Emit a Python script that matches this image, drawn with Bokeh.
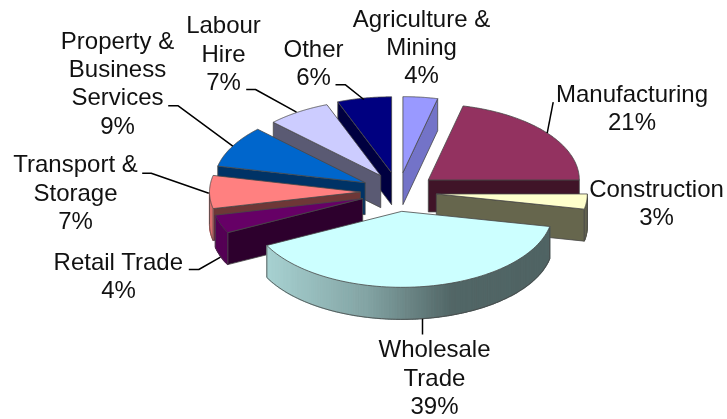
import numpy as np
from bokeh.plotting import figure
from bokeh.models import Range1d
from bokeh.core.properties import value
from bokeh.embed import file_html
from bokeh.resources import INLINE

# ---- data ----
categories = ["Agriculture & Mining", "Manufacturing", "Construction", "Wholesale Trade",
              "Retail Trade", "Transport & Storage", "Property & Business Services",
              "Labour Hire", "Other"]
values = [3.7, 21.3, 3.2, 39.4, 3.9, 7.0, 8.9, 6.8, 5.8]

# ---- style ----
top_colors = ["#9999ff", "#933260", "#ffffcc", "#ccffff", "#660066", "#ff8080", "#0066cc", "#ccccff", "#000080"]
face_colors = ["#7373c8", "#401428", "#66664d", "#4b6464", "#2d002d", "#6e3737", "#003366", "#5a5a73", "#000040"]
draw_order = [0, 8, 7, 6, 5, 4, 1, 2, 3]
nudge_x = [0, 0, 0, -1.7, 0, 0, 0, 3, 0]

label_lines = [["Agriculture &", "Mining"], ["Manufacturing"], ["Construction"], ["Wholesale", "Trade"],
               ["Retail Trade"], ["Transport &", "Storage"], ["Property &", "Business", "Services"],
               ["Labour", "Hire"], ["Other"]]
label_x = [421, 631.5, 656, 434, 118, 75, 117, 223, 313]
label_first_baseline = [26, 101, 196, 356.7, 269, 171.7, 48, 32.7, 56]
line_step = 28.4
leaders = [None,
           ([552.7, 546.7], [101.7, 132.7]),
           None,
           ([422, 422], [318.3, 334]),
           ([188.3, 198.3, 220], [269, 269, 256.7]),
           ([141.7, 150.7, 208.3], [172.7, 172.7, 192.7]),
           ([167.7, 177.7, 232.3], [105.3, 105.3, 145.7]),
           ([245.7, 255, 296], [89, 89, 111.7]),
           ([335, 345, 363.3], [84.3, 84.3, 99])]

# ---- pie geometry ----
CX, CY, RX, RY, DEPTH, EXPLODE_X, EXPLODE_Y = 398, 191.5, 151, 76, 32, 38, 19.5
FONT = "Liberation Sans"
EDGE = "#484848"
BASELINE_TO_MIDDLE = 8.5

p = figure(width=727, height=419, output_backend="svg", toolbar_location=None,
           x_range=Range1d(0, 727), y_range=Range1d(419, 0),
           min_border=0, outline_line_color=None, background_fill_color="white",
           border_fill_color="white", x_axis_location=None, y_axis_location=None)
p.grid.visible = False
p.styles = {"position": "fixed", "left": "0px", "top": "0px"}

edges = np.concatenate([[0], np.cumsum(values)]) / sum(values) * 360


def rim(ax, ay, t):
    r = np.radians(t)
    return ax + RX * np.sin(r), ay - RY * np.cos(r)


def hexc(rgb):
    return "#%02x%02x%02x" % tuple(int(round(min(255, c))) for c in rgb)


def shade(col, t):
    s = np.sin(np.radians(t))
    f = np.interp(s, [-1, -0.23, 0.33, 1], [0.85, 0.64, 0.40, 0.39])
    rgb = [int(col[i:i + 2], 16) * f for i in (1, 3, 5)]
    return hexc(rgb)


for i in draw_order:
    t0, t1 = edges[i], edges[i + 1]
    mid = np.radians((t0 + t1) / 2)
    ax, ay = CX + EXPLODE_X * np.sin(mid) + nudge_x[i], CY - EXPLODE_Y * np.cos(mid)

    # radial cut faces
    if np.sin(np.radians(t1)) > 1e-6 or np.sin(np.radians(t0)) < -1e-6:
        t_face = t1 if np.sin(np.radians(t1)) > 1e-6 else t0
        ex, ey = rim(ax, ay, t_face)
        p.patch([ax, ex, ex, ax], [ay, ey, ey + DEPTH, ay + DEPTH],
                fill_color=face_colors[i], line_color=EDGE, line_width=0.8)

    # outer wall, shaded along the rim
    a, b = max(t0, 90), min(t1, 270)
    if b > a:
        n = max(2, int((b - a) / 1.0))
        ts = np.linspace(a, b, n + 1)
        for u, v in zip(ts[:-1], ts[1:]):
            ux, uy = rim(ax, ay, u)
            vx, vy = rim(ax, ay, v)
            c = shade(top_colors[i], (u + v) / 2)
            p.patch([ux, vx, vx, ux], [uy, vy, vy + DEPTH, uy + DEPTH],
                    fill_color=c, line_color=c, line_width=1.2)
        ts = np.linspace(a, b, 80)
        rx_, ry_ = rim(ax, ay, ts)
        p.line(np.concatenate([rx_[:1], rx_]), np.concatenate([ry_[:1], ry_ + DEPTH]),
               line_color=EDGE, line_width=0.8)
        p.line([rx_[-1], rx_[-1]], [ry_[-1], ry_[-1] + DEPTH], line_color=EDGE, line_width=0.8)

    # top face
    ts = np.linspace(t0, t1, 80)
    rx_, ry_ = rim(ax, ay, ts)
    p.patch(np.concatenate([[ax], rx_]), np.concatenate([[ay], ry_]),
            fill_color=top_colors[i], line_color=EDGE, line_width=0.8)

# leaders
for lead in leaders:
    if lead:
        p.line(lead[0], lead[1], line_color="black", line_width=1.5)

# labels
for i, lines in enumerate(label_lines):
    rows = lines + [f"{round(values[i])}%"]
    for k, txt in enumerate(rows):
        p.text(x=[label_x[i]], y=[label_first_baseline[i] + k * line_step - BASELINE_TO_MIDDLE], text=[txt],
               text_font=value(FONT), text_font_size="24px", text_color="#111111",
               text_align="center", text_baseline="middle")

open("out.html", "w").write(file_html(p, INLINE))
